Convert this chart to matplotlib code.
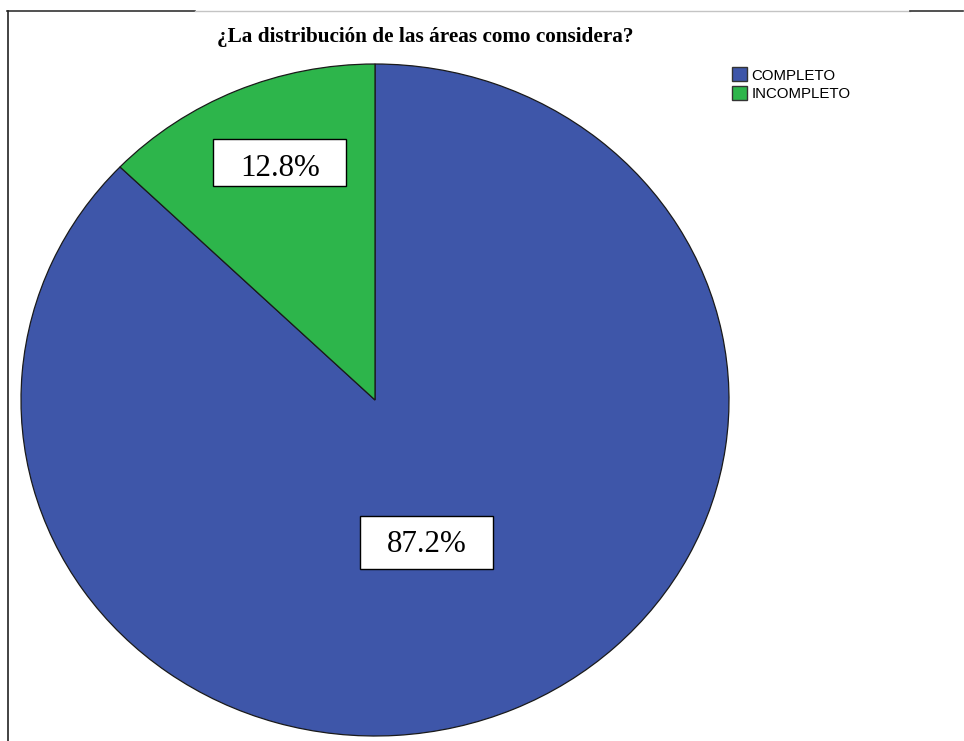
import numpy as np
import matplotlib
matplotlib.use('Agg')
from matplotlib import pyplot as plt
from matplotlib.lines import Line2D
from matplotlib.patches import Rectangle, Patch

categories = ['COMPLETO', 'INCOMPLETO']
percentages = [87.2, 12.8]
colors = ['#3E56A9', '#2DB54B']
title = '¿La distribución de las áreas como considera?'

W, H = 964, 741
fig = plt.figure(figsize=(W / 100, H / 100), dpi=100)

# pie area: a slightly wide ellipse
left, right, top, bottom = 21, 729, 64, 736
ax = fig.add_axes([left / W, 1 - bottom / H, (right - left) / W, (bottom - top) / H])
wedges, _ = ax.pie(percentages, colors=colors, startangle=90, counterclock=False,
                   radius=1, wedgeprops=dict(edgecolor='#1a1a1a', linewidth=0.9))
ax.set_aspect('auto')
ax.set_xlim(-1, 1)
ax.set_ylim(-1, 1)
ax.axis('off')

# percentage labels in white boxes
label_dist = [0.45, 0.755]
label_shift = [-4.0, -2.2]
text_drop = [0.006, 0.016]
box_w = 133 / (right - left) * 2
box_h = [53 / (bottom - top) * 2, 47 / (bottom - top) * 2]
for w, pct, d, sh, bh, dy in zip(wedges, percentages, label_dist, label_shift, box_h, text_drop):
    mid = np.deg2rad((w.theta1 + w.theta2) / 2 + sh)
    x, y = d * np.cos(mid), d * np.sin(mid)
    ax.add_patch(Rectangle((x - box_w / 2, y - bh / 2), box_w, bh, facecolor='white',
                           edgecolor='black', linewidth=1.0, zorder=3))
    ax.text(x, y - dy, f'{pct:.1f}%', ha='center', va='center', fontsize=22.3,
            family='Liberation Serif', zorder=4)

fig.text(425 / W, 1 - 37 / H, title, ha='center', va='center', fontsize=15.3,
         fontweight='bold', family='Liberation Serif')

handles = [Patch(facecolor=c, edgecolor='#333333', linewidth=1.0) for c in colors]
fig.legend(handles, categories, loc='upper left', bbox_to_anchor=(732 / W, 1 - 67.5 / H),
           bbox_transform=fig.transFigure, frameon=False, borderpad=0, borderaxespad=0,
           handlelength=1.0, handleheight=1.05, handletextpad=0.3, labelspacing=0.25,
           prop={'family': 'Liberation Sans', 'size': 10.8})

# frame lines at top and left
fig.add_artist(Line2D([7 / W, 195 / W], [1 - 10.5 / H] * 2, color='#333333', lw=1.2))
fig.add_artist(Line2D([195 / W, 910 / W], [1 - 10.5 / H] * 2, color='#c4c4c4', lw=1.0))
fig.add_artist(Line2D([910 / W, 963 / W], [1 - 10.5 / H] * 2, color='#333333', lw=1.2))
fig.add_artist(Line2D([7.5 / W] * 2, [1 - 10.5 / H, 0], color='#222222', lw=1.2))

fig.savefig('out.png', dpi=100)
